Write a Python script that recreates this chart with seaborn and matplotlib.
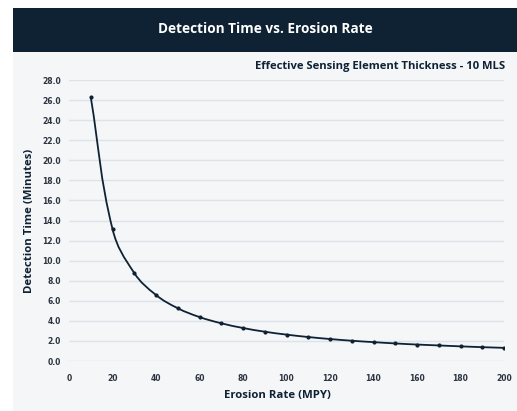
import numpy as np
import pandas as pd
import matplotlib
matplotlib.use("Agg")
import matplotlib.pyplot as plt
from matplotlib.patches import Rectangle, PathPatch
from matplotlib.path import Path
import seaborn as sns

# values
erosion_rate = [10, 20, 30, 40, 50, 60, 70, 80, 90, 100,
                110, 120, 130, 140, 150, 160, 170, 180, 190, 200]
detection_time = [26.3, 13.15, 8.77, 6.58, 5.26, 4.38, 3.76, 3.29, 2.92, 2.63,
                  2.39, 2.19, 2.02, 1.88, 1.75, 1.64, 1.55, 1.46, 1.38, 1.31]
x_ticks = list(range(0, 201, 20))
y_ticks = list(range(0, 29, 2))

title = "Detection Time vs. Erosion Rate"
subtitle = "Effective Sensing Element Thickness - 10 MLS"

navy = "#0f2234"
bg = "#f4f6f8"
grid = "#dde3e8"

sns.set_style("white")
plt.rcParams['font.family'] = ['Open Sans', 'DejaVu Sans']

df = pd.DataFrame({"rate": erosion_rate, "time": detection_time})

W, H = 517, 411
fig = plt.figure(figsize=(W / 100, H / 100), dpi=100)
fig.patch.set_facecolor("white")
# page background and header band
fig.add_artist(Rectangle((13 / W, 0), 1, 1 - 52 / H, transform=fig.transFigure,
                         facecolor=bg, edgecolor="none", zorder=0))
fig.add_artist(Rectangle((13 / W, 1 - 52 / H), 1, 44 / H, transform=fig.transFigure,
                         facecolor=navy, edgecolor="none", zorder=0))
fig.text(265 / W, 1 - 29 / H, title, color="white", fontsize=9.8, fontweight="bold",
         ha="center", va="center")

ax = fig.add_axes([69 / W, 1 - 361 / H, (504 - 69) / W, (361 - 80) / H])
ax.set_facecolor(bg)
ax.set_xlim(0, 200)
ax.set_ylim(0, 28)
ax.set_yticks(y_ticks)
ax.set_yticklabels(["%.1f" % v for v in y_ticks])
ax.set_xticks(x_ticks)
ax.set_xticklabels([str(v) for v in x_ticks])
for lab in ax.get_xticklabels() + ax.get_yticklabels():
    lab.set_family("DejaVu Sans")
    lab.set_fontweight("bold")
    lab.set_fontsize(5.5)
    lab.set_color("#2b3440")
ax.tick_params(axis="both", length=0, pad=6)
ax.tick_params(axis="x", pad=9)
ax.grid(axis="y", color=grid, linewidth=1)
ax.set_axisbelow(True)
for s in ax.spines.values():
    s.set_visible(False)

sns.scatterplot(data=df, x="rate", y="time", ax=ax, color=navy, s=9,
                edgecolor=navy, linewidth=0, zorder=3, legend=False)

# smooth curve through the points (spline tension, like the original)
pts = ax.transData.transform(np.column_stack([df["rate"], df["time"]]))
t = 0.4
n = len(pts)
cps = []
for i in range(n):
    p0 = pts[max(i - 1, 0)]
    p1 = pts[i]
    p2 = pts[min(i + 1, n - 1)]
    d01 = np.hypot(*(p1 - p0))
    d12 = np.hypot(*(p2 - p1))
    tot = d01 + d12 if d01 + d12 > 0 else 1
    fa = t * d01 / tot
    fb = t * d12 / tot
    cps.append((p1 - fa * (p2 - p0), p1 + fb * (p2 - p0)))
verts = [pts[0]]
codes = [Path.MOVETO]
for i in range(n - 1):
    verts += [cps[i][1], cps[i + 1][0], pts[i + 1]]
    codes += [Path.CURVE4] * 3
verts = ax.transData.inverted().transform(np.array(verts))
ax.add_patch(PathPatch(Path(verts, codes), facecolor="none", edgecolor=navy,
                       linewidth=1.3, zorder=2, transform=ax.transData))

ax.set_xlabel("Erosion Rate (MPY)", fontsize=8.2, fontweight="bold", color=navy)
ax.set_ylabel("Detection Time (Minutes)", fontsize=8.2, fontweight="bold", color=navy)
ax.xaxis.set_label_coords(0.48, -0.121)
ax.yaxis.set_label_coords(-0.0897, 0.5)
ax.xaxis.label.set_va("center")
ax.yaxis.label.set_va("center")
fig.text(505 / W, 1 - 67 / H, subtitle, color=navy, fontsize=8.1, fontweight="bold",
         ha="right", va="center")

fig.savefig("out.png", dpi=100)
